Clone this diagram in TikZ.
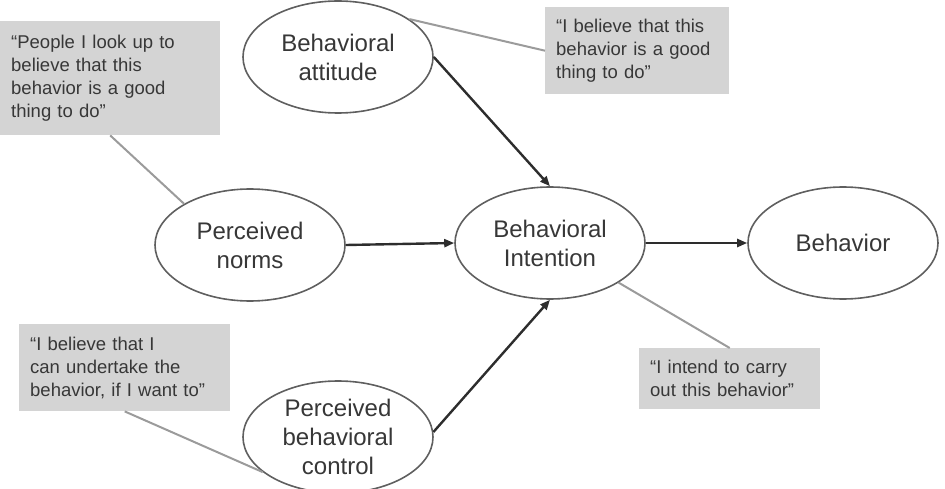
\documentclass[tikz,border=0pt]{standalone}
\usepackage{fontspec}
\setmainfont{Liberation Sans}
\usetikzlibrary{shapes.geometric,arrows.meta}
\definecolor{boxfill}{RGB}{212,212,212}
\definecolor{txt}{RGB}{55,55,55}
\definecolor{ellline}{RGB}{95,95,95}
\definecolor{arrowc}{RGB}{45,45,45}
\definecolor{linkc}{RGB}{155,155,155}
\begin{document}
\begin{tikzpicture}[x=1pt,y=-1pt,
  construct/.style={ellipse, draw=ellline, line width=1.6pt, minimum width=190pt, minimum height=112pt, inner sep=0pt, align=center, text=txt, font=\fontsize{24}{29}\selectfont},
  quote/.style={rectangle, fill=boxfill, anchor=north west, inner xsep=11pt, inner ysep=0pt, align=left, text=txt, font=\fontsize{18.5}{23}\selectfont},
  causal/.style={draw=arrowc, line width=2.4pt, -{Triangle[length=10pt,width=8pt]}},
  link/.style={draw=linkc, line width=2pt}]
\useasboundingbox (0,0) rectangle (945,489);

% belief boxes
\node[quote, minimum width=220pt, minimum height=114pt, text width=198pt] (qn) at (0,21)
  {“People I look up to\\believe that this\\behavior is a good\\thing to do”};
\node[quote, minimum width=184pt, minimum height=87pt, text width=162pt] (qa) at (545,7)
  {“I believe that this\\behavior is a good\\thing to do”};
\node[quote, minimum width=211pt, minimum height=87pt, text width=189pt] (qc) at (19,324)
  {“I believe that I\\can undertake the\\behavior, if I want to”};
\node[quote, minimum width=181pt, minimum height=61pt, text width=159pt] (qi) at (639,348)
  {“I intend to carry\\out this behavior”};

% constructs
\node[construct] (att) at (338,57) {Behavioral\\attitude};
\node[construct] (norms) at (250,245) {Perceived\\norms};
\node[construct] (intent) at (550,243) {Behavioral\\Intention};
\node[construct] (beh) at (843,243) {Behavior};
\node[construct] (ctrl) at (338,437) {Perceived\\behavioral\\control};

% grey links
\draw[link] (qa.west) -- (att.28);
\draw[link] (qn.south) -- (norms.148);
\draw[link] (qc.south) -- (ctrl.205);
\draw[link] (qi.north) -- (intent.330);

% causal arrows
\draw[causal] (att.east) -- (intent.north);
\draw[causal] (norms.east) -- (intent.west);
\draw[causal] (ctrl.3) -- (intent.south);
\draw[causal] (intent.east) -- (beh.west);
\end{tikzpicture}
\end{document}
